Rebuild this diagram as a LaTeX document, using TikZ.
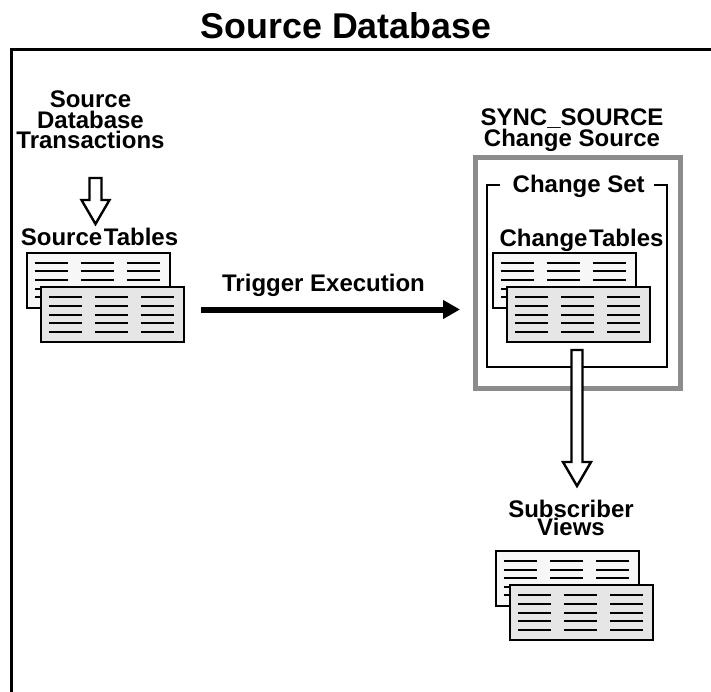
\documentclass[tikz,border=0pt]{standalone}
\usepackage{fontspec}
\setmainfont{Liberation Sans}
\usepackage{xcolor}
\definecolor{boxgray}{HTML}{8C8C8C}
\definecolor{backfill}{HTML}{F7F7F7}
\definecolor{frontfill}{HTML}{E6E6E6}
\usetikzlibrary{arrows.meta,positioning,calc}
\tikzset{
  sheet/.style={draw=black, line width=2.4pt, anchor=north west, minimum width=143pt, minimum height=55pt, inner sep=0pt, outer sep=0pt},
  label/.style={align=center, font=\fontsize{24}{20.5}\selectfont\bfseries, inner sep=0pt},
  rowline/.style={line width=2pt},
  hollow/.style={draw=black, fill=white, line width=2.4pt, miter limit=10, to path={
    let \p1=(\tikztostart), \p2=(\tikztotarget) in
    (\x1-#1,\y1) -- (\x1-#1,\y2+24pt) -- (\x1-14pt,\y2+24pt) -- (\x2,\y2) -- (\x1+14pt,\y2+24pt) -- (\x1+#1,\y2+24pt) -- (\x1+#1,\y1) -- cycle}},
}
% one pair of stacked sheets, corner of the back sheet at #2,#3
\newcommand{\sheetpair}[3]{
  \node[sheet, fill=backfill] (#1back) at (#2,#3) {};
  \foreach \c in {8,54,100} {
    \foreach \r in {10,18.5,27,35.5,44} {
      \draw[rowline] (#2+\c,#3+\r) -- ++(33,0);
    }
  }
  \node[sheet, fill=frontfill] (#1front) at (#2+14,#3+34) {};
  \foreach \c in {8,54,100} {
    \foreach \r in {10,18.5,27.5,36,45} {
      \draw[rowline] (#2+14+\c,#3+34+\r) -- ++(33,0);
    }
  }
}
\begin{document}
\begin{tikzpicture}[x=1pt,y=-1pt]
  \useasboundingbox (0,0) rectangle (711,692);
  % Outer frame
  \draw[line width=2.6pt] (711,49.5) -- (11.5,49.5) -- (11.5,692);
  \node[font=\fontsize{35.8}{36}\selectfont\bfseries, inner sep=0pt, anchor=base] (title) at (346,39) {Source Database};
  % Source side
  \node[label] (txnlabel) at (90.5,120) {Source\\Database\\Transactions};
  \sheetpair{src}{27}{253}
  \node[label, anchor=base] (srclabel) at (99.5,246) {Source\kern-5pt{} Tables};
  \coordinate (txntop) at (95.5,178);
  \coordinate (txntip) at (95.5,224);
  \draw[hollow=6pt] (txntop) to (txntip);
  % Change source
  \node[label] (synclabel) at (572,130) {SYNC\_SOURCE\\Change Source};
  \node[draw=boxgray, line width=5pt, minimum width=205pt, minimum height=230pt, inner sep=0pt] (syncbox) at (577.5,273) {};
  \draw[line width=2.4pt] (500,185) -- (487,185) -- (487,367) -- (667,367) -- (667,185) -- (654,185);
  \node[label, anchor=base] (setlabel) at (578.7,193) {Change Set};
  \node[label, anchor=base] (tablelabel) at (581.5,247) {Change\kern-5pt{} Tables};
  \sheetpair{chg}{493}{253}
  % Trigger
  \coordinate (trigfrom) at (201,309.5);
  \coordinate (trigto) at (460,309.5);
  \draw[line width=6pt, -{Triangle[length=17pt,width=18pt]}] (trigfrom) -- (trigto);
  \node[label, anchor=base] (triglabel) at (323.5,291) {Trigger Execution};
  % Views
  \coordinate (viewtop) at (577,350);
  \coordinate (viewtip) at (577,486);
  \draw[hollow=5.5pt] (viewtop) to (viewtip);
  \node[label] (viewlabel) at (571,518) {Subscriber\\[-3pt]Views};
  \sheetpair{view}{496}{551}
\end{tikzpicture}
\end{document}
